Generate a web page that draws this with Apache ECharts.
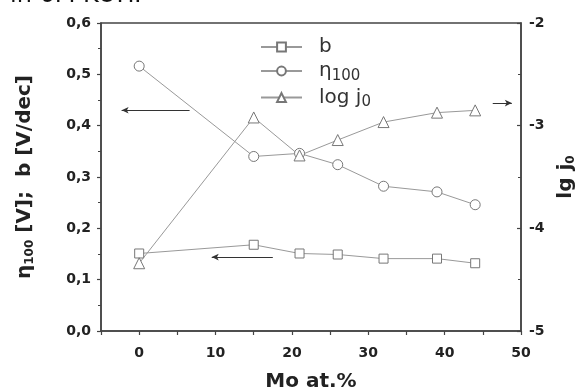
<!DOCTYPE html>
<html>
<head>
<meta charset="utf-8">
<script src="https://cdn.jsdelivr.net/npm/echarts@6/dist/echarts.min.js"></script>
<style>html,body{margin:0;padding:0;background:#fff}#c{width:587px;height:392px}</style>
</head>
<body>
<div id="c"></div>
<script>
const moContent = [0, 15, 21, 26, 32, 39, 44];
const bValues = [0.151, 0.168, 0.151, 0.149, 0.141, 0.141, 0.132];
const etaValues = [0.516, 0.340, 0.346, 0.324, 0.282, 0.271, 0.246];
const logJ0Values = [-4.34, -2.92, -3.29, -3.14, -2.965, -2.873, -2.851];
const xTickLabels = ['0', '10', '20', '30', '40', '50'];
const leftTickLabels = ['0,0', '0,1', '0,2', '0,3', '0,4', '0,5', '0,6'];
const rightTickLabels = ['-5', '-4', '-3', '-2'];
// arrow annotations in data units: [x1, y1, x2, y2]
const arrowEta = [6.6, 0.43, -2.3, 0.43];
const arrowB = [17.5, 0.144, 9.5, 0.144];
const arrowJ0 = [46.3, -2.78, 48.8, -2.78];

const chart = echarts.init(document.getElementById('c'), null, {renderer: 'canvas'});
const pairs = v => moContent.map((x, i) => [x, v[i]]);
const FF = '"DejaVu Sans", Verdana, sans-serif';
const lineC = '#999';
const markC = '#777';
const axisC = '#444';
const tickFont = {color: '#222', fontFamily: FF, fontWeight: 'bold', fontSize: 14};
const nameRich = {
  a: {fontFamily: FF, fontWeight: 'bold', fontSize: 20, color: '#222'},
  s: {fontFamily: FF, fontWeight: 'bold', fontSize: 12, color: '#222', verticalAlign: 'bottom', padding: [10, 0, 0, 0]}
};
function arrow(a) {
  return {
    silent: true, symbol: ['none', 'arrow'], symbolSize: [5, 7], animation: false,
    label: {show: false}, lineStyle: {color: '#333', width: 1, type: 'solid'},
    data: [[{coord: [a[0], a[1]]}, {coord: [a[2], a[3]]}]]
  };
}
const option = {
  animation: false,
  backgroundColor: '#fff',
  grid: {left: 101, right: 66, top: 23, bottom: 61, containLabel: false, outerBoundsMode: 'none',
    show: true, borderColor: axisC, borderWidth: 1.5, backgroundColor: 'transparent'},
  graphic: [{
    type: 'text', x: 10, y: 8, z: 100,
    style: {text: 'in 6M KOH.', font: '24px "DejaVu Sans"', fill: '#111', verticalAlign: 'bottom', align: 'left'}
  }],
  legend: {
    orient: 'vertical', left: 255, top: 32, itemWidth: 41, itemHeight: 11, itemGap: 4,
    textStyle: {fontFamily: FF, fontSize: 20, color: '#333', padding: [0, 0, 0, 12],
      rich: {s: {fontSize: 15, verticalAlign: 'bottom', padding: [10, 0, 0, 0], fontFamily: FF, color: '#333'},
             n: {fontSize: 20, fontFamily: FF, color: '#333'}}},
    formatter: function (name) {
      if (name === 'eta') return '{n|η}{s|100}';
      if (name === 'logj') return '{n|log j}{s|0}';
      return '{n|b}';
    },
    data: ['b', 'eta', 'logj']
  },
  xAxis: {
    type: 'value', min: -5, max: 50, interval: 5,
    name: 'Mo at.%', nameLocation: 'middle', nameGap: 41,
    nameTextStyle: {fontFamily: FF, fontWeight: 'bold', fontSize: 20, color: '#222'},
    axisLine: {onZero: false, lineStyle: {color: axisC, width: 1.5}},
    axisTick: {show: true, length: 4, lineStyle: {color: axisC, width: 1.2}},
    axisLabel: Object.assign({margin: 15, formatter: v => (v % 10 === 0 && v >= 0) ? xTickLabels[v / 10] : ''}, tickFont),
    splitLine: {show: false}
  },
  yAxis: [{
    type: 'value', min: 0, max: 0.6, interval: 0.1, position: 'left',
    name: '{a|η}{s|100}{a| [V];  b [V/dec]}', nameLocation: 'middle', nameGap: 65, nameRotate: 90,
    nameTextStyle: {rich: nameRich},
    axisLine: {show: true, onZero: false, lineStyle: {color: axisC, width: 1.5}},
    axisTick: {show: true, length: 4, lineStyle: {color: axisC, width: 1.2}},
    minorTick: {show: true, splitNumber: 2, length: 3, lineStyle: {color: axisC, width: 1}},
    axisLabel: Object.assign({margin: 10, formatter: v => leftTickLabels[Math.round(v * 10)]}, tickFont),
    splitLine: {show: false}
  }, {
    type: 'value', min: -5, max: -2, interval: 1, position: 'right',
    name: '{a|lg j}{s|0}', nameLocation: 'middle', nameGap: 31, nameRotate: 90,
    nameTextStyle: {rich: nameRich},
    axisLine: {show: true, onZero: false, lineStyle: {color: axisC, width: 1.5}},
    axisTick: {show: true, inside: true, length: 4, lineStyle: {color: axisC, width: 1.2}},
    minorTick: {show: true, splitNumber: 2, length: 3, lineStyle: {color: axisC, width: 1}},
    axisLabel: Object.assign({margin: 8, formatter: v => rightTickLabels[Math.round(v + 5)]}, tickFont),
    splitLine: {show: false}
  }],
  series: [{
    name: 'b', type: 'line', yAxisIndex: 0, data: pairs(bValues),
    symbol: 'rect', symbolSize: 9, showAllSymbol: true,
    lineStyle: {color: lineC, width: 1}, itemStyle: {color: '#fff', borderColor: markC, borderWidth: 1},
    markLine: arrow(arrowB)
  }, {
    name: 'eta', type: 'line', yAxisIndex: 0, data: pairs(etaValues),
    symbol: 'circle', symbolSize: 10, showAllSymbol: true,
    lineStyle: {color: lineC, width: 1}, itemStyle: {color: '#fff', borderColor: markC, borderWidth: 1},
    markLine: arrow(arrowEta)
  }, {
    name: 'logj', type: 'line', yAxisIndex: 1, data: pairs(logJ0Values),
    symbol: 'triangle', symbolSize: 11, showAllSymbol: true,
    lineStyle: {color: lineC, width: 1}, itemStyle: {color: '#fff', borderColor: markC, borderWidth: 1},
    markLine: arrow(arrowJ0)
  }]
};
chart.setOption(option);
</script>
</body>
</html>
